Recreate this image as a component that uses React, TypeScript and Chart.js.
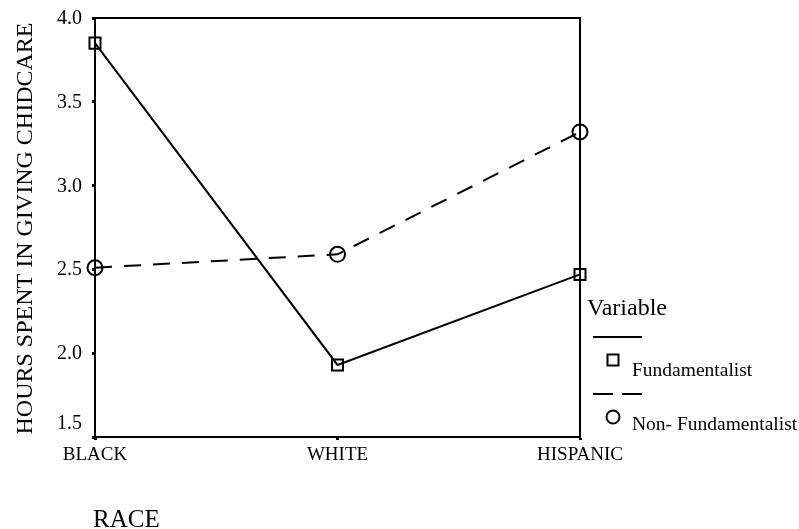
import React, { useEffect, useRef } from 'react';
import { Chart, registerables } from 'chart.js';

Chart.register(...registerables);

const categories = ['BLACK', 'WHITE', 'HISPANIC'];
const fundamentalist = [3.85, 1.93, 2.47];
const nonFundamentalist = [2.51, 2.59, 3.32];
const yMin = 1.5;
const yMax = 4.0;
const yStep = 0.5;
const yTitle = 'HOURS SPENT IN GIVING CHIDCARE';
const xTitle = 'RACE';
const legendTitle = 'Variable';
const seriesNames = ['Fundamentalist', 'Non- Fundamentalist'];

const FONT = '"Liberation Serif", "Times New Roman", serif';

const decorPlugin = {
  id: 'decor',
  afterDraw(chart: any) {
    const ctx = chart.ctx as CanvasRenderingContext2D;
    const area = chart.chartArea;
    const yScale = chart.scales.y;
    ctx.save();
    ctx.strokeStyle = '#000';
    ctx.fillStyle = '#000';
    // frame top & right
    ctx.lineWidth = 2;
    ctx.beginPath();
    ctx.moveTo(area.left, area.top);
    ctx.lineTo(area.right, area.top);
    ctx.lineTo(area.right, area.bottom);
    ctx.stroke();

    // y tick labels
    ctx.font = `20px ${FONT}`;
    ctx.textAlign = 'right';
    ctx.textBaseline = 'alphabetic';
    const ticks = yScale.ticks;
    ticks.forEach((t: any, i: number) => {
      const py = yScale.getPixelForValue(t.value);
      const off = i === 0 ? -8 : 6;
      ctx.fillText(Number(t.value).toFixed(1), 82, py + off);
    });

    // y title
    ctx.save();
    ctx.font = `24px ${FONT}`;
    ctx.textAlign = 'center';
    ctx.textBaseline = 'alphabetic';
    ctx.translate(31.5, (area.top + area.bottom) / 2 + 1);
    ctx.rotate(-Math.PI / 2);
    ctx.fillText(yTitle, 0, 0);
    ctx.restore();

    // x title
    ctx.font = `25px ${FONT}`;
    ctx.textAlign = 'left';
    ctx.fillText(xTitle, 93, 527);

    // legend
    const lx = area.right + 7;
    ctx.font = `24px ${FONT}`;
    ctx.fillText(legendTitle, lx, 315);
    ctx.lineWidth = 2;
    ctx.beginPath();
    ctx.moveTo(593, 337);
    ctx.lineTo(642, 337);
    ctx.stroke();
    ctx.strokeRect(613 - 5.5, 360 - 5.5, 11, 11);
    ctx.font = `19.5px ${FONT}`;
    ctx.fillText(seriesNames[0], 632, 376);
    ctx.beginPath();
    ctx.moveTo(593, 394);
    ctx.lineTo(613, 394);
    ctx.moveTo(622, 394);
    ctx.lineTo(642, 394);
    ctx.stroke();
    ctx.beginPath();
    ctx.arc(613, 417, 6.5, 0, Math.PI * 2);
    ctx.stroke();
    ctx.fillText(seriesNames[1], 632, 430);
    ctx.restore();
  },
};

export default function App() {
  const ref = useRef<HTMLCanvasElement | null>(null);
  useEffect(() => {
    if (!ref.current) return;
    const chart = new Chart(ref.current, {
      type: 'line',
      data: {
        labels: categories,
        datasets: [
          {
            label: seriesNames[0],
            data: fundamentalist,
            borderColor: '#000',
            borderWidth: 2,
            pointStyle: 'rect',
            pointRadius: 7.8,
            pointBorderWidth: 2,
            pointBorderColor: '#000',
            pointBackgroundColor: 'rgba(0,0,0,0)',
            tension: 0,
            clip: false,
          } as any,
          {
            label: seriesNames[1],
            data: nonFundamentalist,
            borderColor: '#000',
            borderWidth: 2,
            borderDash: [17, 12],
            pointStyle: 'circle',
            pointRadius: 7.5,
            pointBorderWidth: 2,
            pointBorderColor: '#000',
            pointBackgroundColor: 'rgba(0,0,0,0)',
            tension: 0,
            clip: false,
          } as any,
        ],
      },
      options: {
        animation: false,
        responsive: true,
        maintainAspectRatio: false,
        layout: { padding: { top: 18, right: 219, left: 0, bottom: 0 } },
        plugins: { legend: { display: false }, tooltip: { enabled: false } },
        scales: {
          x: {
            type: 'category',
            offset: false,
            border: { display: true, color: '#000', width: 2 },
            grid: {
              display: true,
              drawOnChartArea: false,
              drawTicks: true,
              tickLength: 3,
              tickWidth: 3,
              tickColor: '#000',
            },
            ticks: {
              color: '#000',
              font: { family: FONT, size: 19 },
              padding: 4,
              maxRotation: 0,
              autoSkip: false,
            },
            afterFit: (s: any) => {
              s.height = 92;
            },
          },
          y: {
            min: yMin,
            max: yMax,
            border: { display: true, color: '#000', width: 2 },
            grid: {
              display: true,
              drawOnChartArea: false,
              drawTicks: true,
              tickLength: 3,
              tickWidth: 3,
              tickColor: '#000',
            },
            ticks: { stepSize: yStep, display: false },
            afterFit: (s: any) => {
              s.width = 95;
            },
          },
        },
      },
      plugins: [decorPlugin],
    });
    return () => chart.destroy();
  }, []);
  return (
    <div style={{ position: 'fixed', left: 0, top: 0, width: 799, height: 529, background: '#fff' }}>
      <canvas ref={ref} />
    </div>
  );
}
